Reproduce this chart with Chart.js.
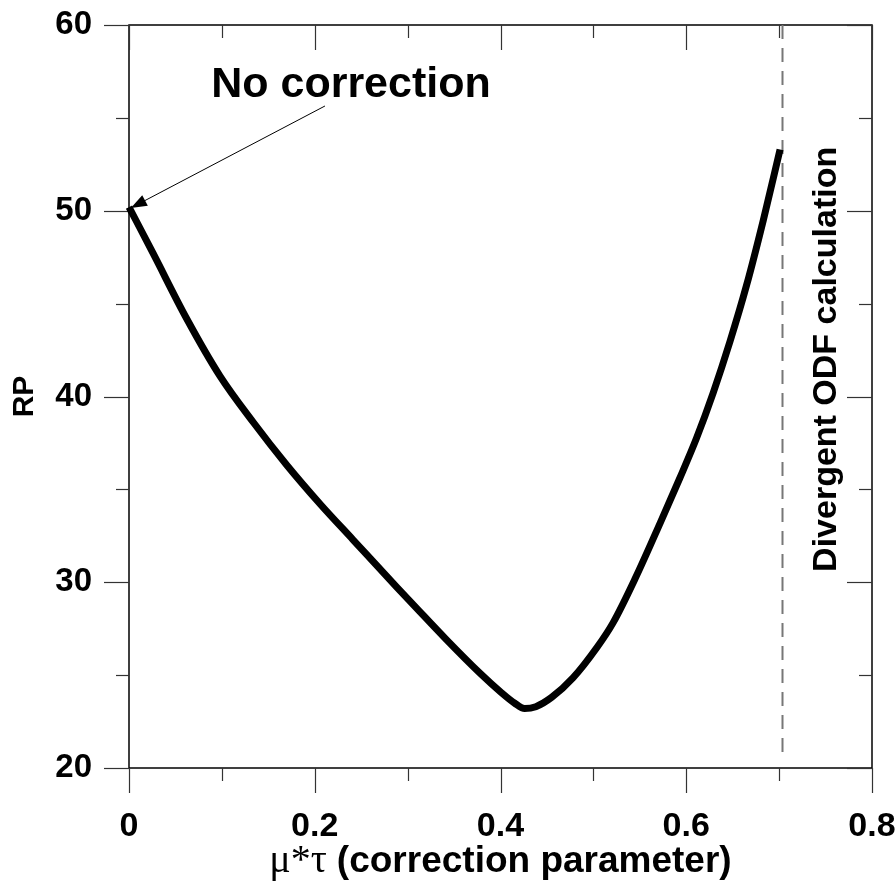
<!DOCTYPE html>
<html>
<head>
<meta charset="utf-8">
<script src="https://cdn.jsdelivr.net/npm/chart.js@4.4.1/dist/chart.umd.min.js"></script>
<style>
  html, body { margin: 0; padding: 0; background: #fff; }
  #wrap { width: 896px; height: 884px; }
</style>
</head>
<body>
<div id="wrap"><canvas id="rpChart"></canvas></div>
<script>
// RP vs correction parameter
const muTau = [0, 0.026, 0.062, 0.098, 0.134, 0.170, 0.206, 0.241, 0.289, 0.306, 0.342, 0.378, 0.400, 0.415, 0.426,
               0.438, 0.455, 0.478, 0.504, 0.521, 0.545, 0.572, 0.593, 0.611, 0.629, 0.647, 0.665, 0.683, 0.701];
const rpValues = [50.2, 47.7, 44.2, 41.1, 38.6, 36.3, 34.2, 32.3, 29.7, 28.8, 26.9, 25.1, 24.1, 23.5, 23.2,
                  23.3, 23.8, 24.85, 26.5, 27.8, 30.2, 33.2, 35.6, 37.75, 40.2, 42.95, 46.0, 49.5, 53.3];

// axes
const xTicks = [0, 0.2, 0.4, 0.6, 0.8];
const xTickLabels = ['0', '0.2', '0.4', '0.6', '0.8'];
const xMinorTicks = [0.1, 0.3, 0.5, 0.7];
const yTicks = [20, 30, 40, 50, 60];
const yTickLabels = ['20', '30', '40', '50', '60'];
const yMinorTicks = [25, 35, 45, 55];

// where the ODF calculation diverges
const divergenceX = 0.703;

const FONT = "Arial, 'Liberation Sans', Helvetica, sans-serif";
const SERIF = "'Times New Roman', 'Liberation Serif', serif";

function line(ctx, x1, y1, x2, y2) {
    ctx.beginPath();
    ctx.moveTo(x1, y1);
    ctx.lineTo(x2, y2);
    ctx.stroke();
}

// frame with inward/outward ticks like the original plot
const framePlugin = {
    id: 'frame',
    beforeDatasetsDraw(chart) {
        const { ctx, chartArea: a, scales: { x, y } } = chart;
        ctx.save();
        ctx.strokeStyle = '#000';
        ctx.lineWidth = 1.5;
        ctx.strokeRect(a.left, a.top, a.right - a.left, a.bottom - a.top);

        ctx.strokeStyle = '#333';
        ctx.lineWidth = 1.2;
        xTicks.forEach(v => {
            const px = Math.round(x.getPixelForValue(v)) + 0.5;
            line(ctx, px, a.bottom, px, a.bottom + 25);
            line(ctx, px, a.top, px, a.top + 25);
        });
        xMinorTicks.forEach(v => {
            const px = Math.round(x.getPixelForValue(v)) + 0.5;
            line(ctx, px, a.bottom, px, a.bottom + 13);
            line(ctx, px, a.top, px, a.top + 13);
        });
        yTicks.forEach(v => {
            const py = Math.round(y.getPixelForValue(v)) + 0.5;
            line(ctx, a.left - 25, py, a.left, py);
            line(ctx, a.right - 25, py, a.right, py);
        });
        yMinorTicks.forEach(v => {
            const py = Math.round(y.getPixelForValue(v)) + 0.5;
            line(ctx, a.left - 13, py, a.left, py);
            line(ctx, a.right - 13, py, a.right, py);
        });

        // dashed divergence line
        const dx = Math.round(x.getPixelForValue(divergenceX)) + 0.5;
        ctx.strokeStyle = '#777';
        ctx.lineWidth = 2;
        ctx.setLineDash([14, 9]);
        line(ctx, dx, a.top, dx, y.getPixelForValue(20.6));
        ctx.restore();
    },
    afterDatasetsDraw(chart) {
        const { ctx, chartArea: a, scales: { x, y } } = chart;
        ctx.save();
        ctx.fillStyle = '#000';
        ctx.strokeStyle = '#000';

        // "No correction" label with arrow to the first point
        ctx.font = 'bold 43px ' + FONT;
        ctx.textAlign = 'center';
        ctx.textBaseline = 'alphabetic';
        ctx.fillText('No correction', x.getPixelForValue(0.239), y.getPixelForValue(56.12));

        const tx = x.getPixelForValue(0.211), ty = y.getPixelForValue(55.64);
        const hx = x.getPixelForValue(0.002), hy = y.getPixelForValue(50.15);
        const ang = Math.atan2(hy - ty, hx - tx);
        ctx.lineWidth = 1;
        line(ctx, tx, ty, hx - 14 * Math.cos(ang), hy - 14 * Math.sin(ang));
        ctx.beginPath();
        ctx.moveTo(hx, hy);
        ctx.lineTo(hx - 16 * Math.cos(ang) + 6 * Math.sin(ang), hy - 16 * Math.sin(ang) - 6 * Math.cos(ang));
        ctx.lineTo(hx - 16 * Math.cos(ang) - 6 * Math.sin(ang), hy - 16 * Math.sin(ang) + 6 * Math.cos(ang));
        ctx.closePath();
        ctx.fill();

        // vertical note next to the dashed line
        ctx.save();
        ctx.translate(x.getPixelForValue(0.761), y.getPixelForValue(42.0));
        ctx.rotate(-Math.PI / 2);
        ctx.font = 'bold 34px ' + FONT;
        ctx.textAlign = 'center';
        ctx.fillText('Divergent ODF calculation', 0, 0);
        ctx.restore();

        // x title: greek part in serif, rest bold sans
        const part1 = '\u03bc*\u03c4 ';
        const part2 = '(correction parameter)';
        ctx.font = '40px ' + SERIF;
        const w1 = ctx.measureText(part1).width;
        ctx.font = 'bold 37px ' + FONT;
        const w2 = ctx.measureText(part2).width;
        const cx = (a.left + a.right) / 2;
        const baseY = 872;
        const sx = cx - (w1 + w2) / 2;
        ctx.textAlign = 'left';
        ctx.font = '40px ' + SERIF;
        ctx.fillText(part1, sx, baseY);
        ctx.font = 'bold 37px ' + FONT;
        ctx.fillText(part2, sx + w1, baseY);
        ctx.restore();
    }
};

const ctx = document.getElementById('rpChart').getContext('2d');
new Chart(ctx, {
    type: 'line',
    data: {
        datasets: [{
            data: muTau.map((v, i) => ({ x: v, y: rpValues[i] })),
            borderColor: '#000',
            borderWidth: 7,
            pointRadius: 0,
            fill: false,
            cubicInterpolationMode: 'monotone',
            borderCapStyle: 'butt',
            clip: false
        }]
    },
    options: {
        responsive: true,
        maintainAspectRatio: false,
        animation: false,
        layout: { padding: { top: 25, right: 24, left: 0, bottom: 0 } },
        plugins: { legend: { display: false }, tooltip: { enabled: false } },
        scales: {
            x: {
                type: 'linear',
                min: 0, max: 0.8,
                grid: { display: false, drawTicks: false },
                border: { display: false },
                afterBuildTicks: s => { s.ticks = xTicks.map(v => ({ value: v })); },
                afterFit: s => { s.height = 116; s.paddingLeft = 0; s.paddingRight = 0; },
                ticks: {
                    autoSkip: false, maxRotation: 0, padding: 38,
                    color: '#000',
                    font: { family: FONT, size: 34, weight: 'bold' },
                    callback: (v, i) => xTickLabels[i]
                }
            },
            y: {
                type: 'linear',
                min: 20, max: 60,
                grid: { display: false, drawTicks: false },
                border: { display: false },
                afterBuildTicks: s => { s.ticks = yTicks.map(v => ({ value: v })); },
                afterFit: s => { s.width = 129; s.paddingTop = 0; s.paddingBottom = 0; },
                ticks: {
                    padding: 37,
                    color: '#000',
                    font: { family: FONT, size: 33, weight: 'bold' },
                    callback: (v, i) => yTickLabels[i]
                },
                title: {
                    display: true,
                    text: 'RP',
                    color: '#000',
                    padding: { top: 7, bottom: 0 },
                    font: { family: FONT, size: 30, weight: 'bold' }
                }
            }
        }
    },
    plugins: [framePlugin]
});
</script>
</body>
</html>
